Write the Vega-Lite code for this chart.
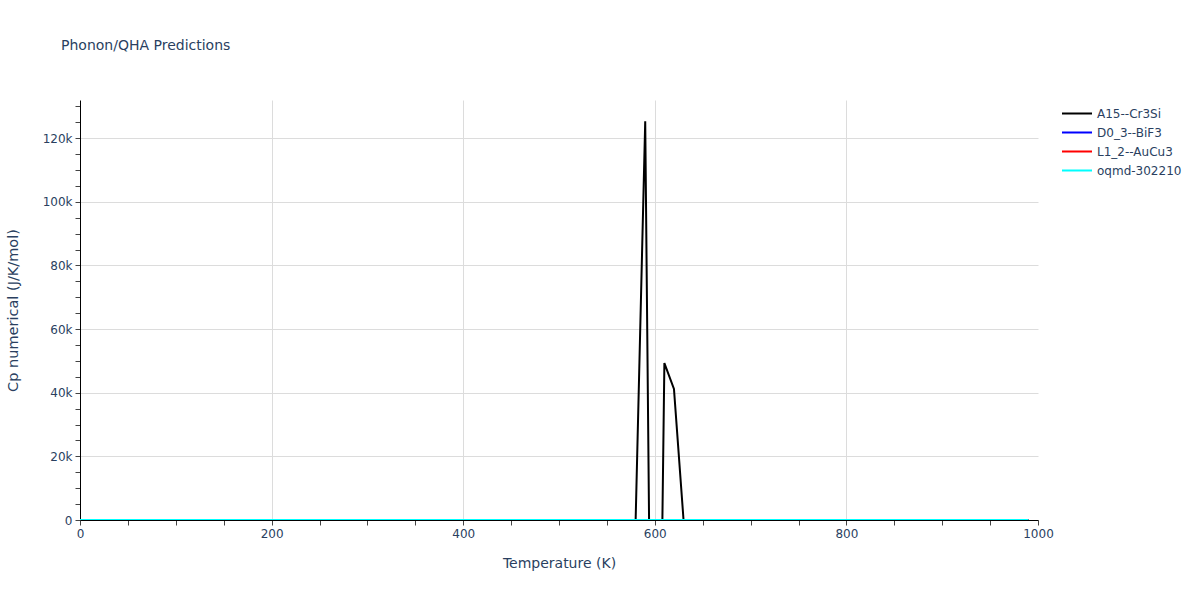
{
  "$schema": "https://vega.github.io/schema/vega-lite/v6.json",
  "width": 958,
  "height": 420,
  "autosize": {"type": "none"},
  "padding": {"left": 80, "top": 100, "right": 162, "bottom": 80},
  "background": "white",
  "title": {"text": "Phonon/QHA Predictions", "anchor": "start", "frame": "group", "dx": -19, "offset": 47, "fontSize": 14, "font": "DejaVu Sans", "fontWeight": "normal", "color": "#2a3f5f"},
  "config": {"view": {"stroke": null}, "font": "DejaVu Sans"},
  "data": {"values": [
    {"T":0,"A15--Cr3Si":0,"D0_3--BiF3":0,"L1_2--AuCu3":0,"oqmd-302210":0},
    {"T":10,"A15--Cr3Si":0,"D0_3--BiF3":0,"L1_2--AuCu3":0,"oqmd-302210":0},
    {"T":20,"A15--Cr3Si":0,"D0_3--BiF3":0,"L1_2--AuCu3":0,"oqmd-302210":0},
    {"T":30,"A15--Cr3Si":0,"D0_3--BiF3":0,"L1_2--AuCu3":0,"oqmd-302210":0},
    {"T":40,"A15--Cr3Si":0,"D0_3--BiF3":0,"L1_2--AuCu3":0,"oqmd-302210":0},
    {"T":50,"A15--Cr3Si":0,"D0_3--BiF3":0,"L1_2--AuCu3":0,"oqmd-302210":0},
    {"T":60,"A15--Cr3Si":0,"D0_3--BiF3":0,"L1_2--AuCu3":0,"oqmd-302210":0},
    {"T":70,"A15--Cr3Si":0,"D0_3--BiF3":0,"L1_2--AuCu3":0,"oqmd-302210":0},
    {"T":80,"A15--Cr3Si":0,"D0_3--BiF3":0,"L1_2--AuCu3":0,"oqmd-302210":0},
    {"T":90,"A15--Cr3Si":0,"D0_3--BiF3":0,"L1_2--AuCu3":0,"oqmd-302210":0},
    {"T":100,"A15--Cr3Si":0,"D0_3--BiF3":0,"L1_2--AuCu3":0,"oqmd-302210":0},
    {"T":110,"A15--Cr3Si":0,"D0_3--BiF3":0,"L1_2--AuCu3":0,"oqmd-302210":0},
    {"T":120,"A15--Cr3Si":0,"D0_3--BiF3":0,"L1_2--AuCu3":0,"oqmd-302210":0},
    {"T":130,"A15--Cr3Si":0,"D0_3--BiF3":0,"L1_2--AuCu3":0,"oqmd-302210":0},
    {"T":140,"A15--Cr3Si":0,"D0_3--BiF3":0,"L1_2--AuCu3":0,"oqmd-302210":0},
    {"T":150,"A15--Cr3Si":0,"D0_3--BiF3":0,"L1_2--AuCu3":0,"oqmd-302210":0},
    {"T":160,"A15--Cr3Si":0,"D0_3--BiF3":0,"L1_2--AuCu3":0,"oqmd-302210":0},
    {"T":170,"A15--Cr3Si":0,"D0_3--BiF3":0,"L1_2--AuCu3":0,"oqmd-302210":0},
    {"T":180,"A15--Cr3Si":0,"D0_3--BiF3":0,"L1_2--AuCu3":0,"oqmd-302210":0},
    {"T":190,"A15--Cr3Si":0,"D0_3--BiF3":0,"L1_2--AuCu3":0,"oqmd-302210":0},
    {"T":200,"A15--Cr3Si":0,"D0_3--BiF3":0,"L1_2--AuCu3":0,"oqmd-302210":0},
    {"T":210,"A15--Cr3Si":0,"D0_3--BiF3":0,"L1_2--AuCu3":0,"oqmd-302210":0},
    {"T":220,"A15--Cr3Si":0,"D0_3--BiF3":0,"L1_2--AuCu3":0,"oqmd-302210":0},
    {"T":230,"A15--Cr3Si":0,"D0_3--BiF3":0,"L1_2--AuCu3":0,"oqmd-302210":0},
    {"T":240,"A15--Cr3Si":0,"D0_3--BiF3":0,"L1_2--AuCu3":0,"oqmd-302210":0},
    {"T":250,"A15--Cr3Si":0,"D0_3--BiF3":0,"L1_2--AuCu3":0,"oqmd-302210":0},
    {"T":260,"A15--Cr3Si":0,"D0_3--BiF3":0,"L1_2--AuCu3":0,"oqmd-302210":0},
    {"T":270,"A15--Cr3Si":0,"D0_3--BiF3":0,"L1_2--AuCu3":0,"oqmd-302210":0},
    {"T":280,"A15--Cr3Si":0,"D0_3--BiF3":0,"L1_2--AuCu3":0,"oqmd-302210":0},
    {"T":290,"A15--Cr3Si":0,"D0_3--BiF3":0,"L1_2--AuCu3":0,"oqmd-302210":0},
    {"T":300,"A15--Cr3Si":0,"D0_3--BiF3":0,"L1_2--AuCu3":0,"oqmd-302210":0},
    {"T":310,"A15--Cr3Si":0,"D0_3--BiF3":0,"L1_2--AuCu3":0,"oqmd-302210":0},
    {"T":320,"A15--Cr3Si":0,"D0_3--BiF3":0,"L1_2--AuCu3":0,"oqmd-302210":0},
    {"T":330,"A15--Cr3Si":0,"D0_3--BiF3":0,"L1_2--AuCu3":0,"oqmd-302210":0},
    {"T":340,"A15--Cr3Si":0,"D0_3--BiF3":0,"L1_2--AuCu3":0,"oqmd-302210":0},
    {"T":350,"A15--Cr3Si":0,"D0_3--BiF3":0,"L1_2--AuCu3":0,"oqmd-302210":0},
    {"T":360,"A15--Cr3Si":0,"D0_3--BiF3":0,"L1_2--AuCu3":0,"oqmd-302210":0},
    {"T":370,"A15--Cr3Si":0,"D0_3--BiF3":0,"L1_2--AuCu3":0,"oqmd-302210":0},
    {"T":380,"A15--Cr3Si":0,"D0_3--BiF3":0,"L1_2--AuCu3":0,"oqmd-302210":0},
    {"T":390,"A15--Cr3Si":0,"D0_3--BiF3":0,"L1_2--AuCu3":0,"oqmd-302210":0},
    {"T":400,"A15--Cr3Si":0,"D0_3--BiF3":0,"L1_2--AuCu3":0,"oqmd-302210":0},
    {"T":410,"A15--Cr3Si":0,"D0_3--BiF3":0,"L1_2--AuCu3":0,"oqmd-302210":0},
    {"T":420,"A15--Cr3Si":0,"D0_3--BiF3":0,"L1_2--AuCu3":0,"oqmd-302210":0},
    {"T":430,"A15--Cr3Si":0,"D0_3--BiF3":0,"L1_2--AuCu3":0,"oqmd-302210":0},
    {"T":440,"A15--Cr3Si":0,"D0_3--BiF3":0,"L1_2--AuCu3":0,"oqmd-302210":0},
    {"T":450,"A15--Cr3Si":0,"D0_3--BiF3":0,"L1_2--AuCu3":0,"oqmd-302210":0},
    {"T":460,"A15--Cr3Si":0,"D0_3--BiF3":0,"L1_2--AuCu3":0,"oqmd-302210":0},
    {"T":470,"A15--Cr3Si":0,"D0_3--BiF3":0,"L1_2--AuCu3":0,"oqmd-302210":0},
    {"T":480,"A15--Cr3Si":0,"D0_3--BiF3":0,"L1_2--AuCu3":0,"oqmd-302210":0},
    {"T":490,"A15--Cr3Si":0,"D0_3--BiF3":0,"L1_2--AuCu3":0,"oqmd-302210":0},
    {"T":500,"A15--Cr3Si":0,"D0_3--BiF3":0,"L1_2--AuCu3":0,"oqmd-302210":0},
    {"T":510,"A15--Cr3Si":0,"D0_3--BiF3":0,"L1_2--AuCu3":0,"oqmd-302210":0},
    {"T":520,"A15--Cr3Si":0,"D0_3--BiF3":0,"L1_2--AuCu3":0,"oqmd-302210":0},
    {"T":530,"A15--Cr3Si":0,"D0_3--BiF3":0,"L1_2--AuCu3":0,"oqmd-302210":0},
    {"T":540,"A15--Cr3Si":0,"D0_3--BiF3":0,"L1_2--AuCu3":0,"oqmd-302210":0},
    {"T":550,"A15--Cr3Si":0,"D0_3--BiF3":0,"L1_2--AuCu3":0,"oqmd-302210":0},
    {"T":560,"A15--Cr3Si":0,"D0_3--BiF3":0,"L1_2--AuCu3":0,"oqmd-302210":0},
    {"T":570,"A15--Cr3Si":0,"D0_3--BiF3":0,"L1_2--AuCu3":0,"oqmd-302210":0},
    {"T":580,"A15--Cr3Si":0,"D0_3--BiF3":0,"L1_2--AuCu3":0,"oqmd-302210":0},
    {"T":590,"A15--Cr3Si":125300,"D0_3--BiF3":0,"L1_2--AuCu3":0,"oqmd-302210":0},
    {"T":600,"A15--Cr3Si":-187000,"D0_3--BiF3":0,"L1_2--AuCu3":0,"oqmd-302210":0},
    {"T":610,"A15--Cr3Si":49300,"D0_3--BiF3":0,"L1_2--AuCu3":0,"oqmd-302210":0},
    {"T":620,"A15--Cr3Si":41200,"D0_3--BiF3":0,"L1_2--AuCu3":0,"oqmd-302210":0},
    {"T":630,"A15--Cr3Si":0,"D0_3--BiF3":0,"L1_2--AuCu3":0,"oqmd-302210":0},
    {"T":640,"A15--Cr3Si":0,"D0_3--BiF3":0,"L1_2--AuCu3":0,"oqmd-302210":0},
    {"T":650,"A15--Cr3Si":0,"D0_3--BiF3":0,"L1_2--AuCu3":0,"oqmd-302210":0},
    {"T":660,"A15--Cr3Si":0,"D0_3--BiF3":0,"L1_2--AuCu3":0,"oqmd-302210":0},
    {"T":670,"A15--Cr3Si":0,"D0_3--BiF3":0,"L1_2--AuCu3":0,"oqmd-302210":0},
    {"T":680,"A15--Cr3Si":0,"D0_3--BiF3":0,"L1_2--AuCu3":0,"oqmd-302210":0},
    {"T":690,"A15--Cr3Si":0,"D0_3--BiF3":0,"L1_2--AuCu3":0,"oqmd-302210":0},
    {"T":700,"A15--Cr3Si":0,"D0_3--BiF3":0,"L1_2--AuCu3":0,"oqmd-302210":0},
    {"T":710,"A15--Cr3Si":0,"D0_3--BiF3":0,"L1_2--AuCu3":0,"oqmd-302210":0},
    {"T":720,"A15--Cr3Si":0,"D0_3--BiF3":0,"L1_2--AuCu3":0,"oqmd-302210":0},
    {"T":730,"A15--Cr3Si":0,"D0_3--BiF3":0,"L1_2--AuCu3":0,"oqmd-302210":0},
    {"T":740,"A15--Cr3Si":0,"D0_3--BiF3":0,"L1_2--AuCu3":0,"oqmd-302210":0},
    {"T":750,"A15--Cr3Si":0,"D0_3--BiF3":0,"L1_2--AuCu3":0,"oqmd-302210":0},
    {"T":760,"A15--Cr3Si":0,"D0_3--BiF3":0,"L1_2--AuCu3":0,"oqmd-302210":0},
    {"T":770,"A15--Cr3Si":0,"D0_3--BiF3":0,"L1_2--AuCu3":0,"oqmd-302210":0},
    {"T":780,"A15--Cr3Si":0,"D0_3--BiF3":0,"L1_2--AuCu3":0,"oqmd-302210":0},
    {"T":790,"A15--Cr3Si":0,"D0_3--BiF3":0,"L1_2--AuCu3":0,"oqmd-302210":0},
    {"T":800,"A15--Cr3Si":0,"D0_3--BiF3":0,"L1_2--AuCu3":0,"oqmd-302210":0},
    {"T":810,"A15--Cr3Si":0,"D0_3--BiF3":0,"L1_2--AuCu3":0,"oqmd-302210":0},
    {"T":820,"A15--Cr3Si":0,"D0_3--BiF3":0,"L1_2--AuCu3":0,"oqmd-302210":0},
    {"T":830,"A15--Cr3Si":0,"D0_3--BiF3":0,"L1_2--AuCu3":0,"oqmd-302210":0},
    {"T":840,"A15--Cr3Si":0,"D0_3--BiF3":0,"L1_2--AuCu3":0,"oqmd-302210":0},
    {"T":850,"A15--Cr3Si":0,"D0_3--BiF3":0,"L1_2--AuCu3":0,"oqmd-302210":0},
    {"T":860,"A15--Cr3Si":0,"D0_3--BiF3":0,"L1_2--AuCu3":0,"oqmd-302210":0},
    {"T":870,"A15--Cr3Si":0,"D0_3--BiF3":0,"L1_2--AuCu3":0,"oqmd-302210":0},
    {"T":880,"A15--Cr3Si":0,"D0_3--BiF3":0,"L1_2--AuCu3":0,"oqmd-302210":0},
    {"T":890,"A15--Cr3Si":0,"D0_3--BiF3":0,"L1_2--AuCu3":0,"oqmd-302210":0},
    {"T":900,"A15--Cr3Si":0,"D0_3--BiF3":0,"L1_2--AuCu3":0,"oqmd-302210":0},
    {"T":910,"A15--Cr3Si":0,"D0_3--BiF3":0,"L1_2--AuCu3":0,"oqmd-302210":0},
    {"T":920,"A15--Cr3Si":0,"D0_3--BiF3":0,"L1_2--AuCu3":0,"oqmd-302210":0},
    {"T":930,"A15--Cr3Si":0,"D0_3--BiF3":0,"L1_2--AuCu3":0,"oqmd-302210":0},
    {"T":940,"A15--Cr3Si":0,"D0_3--BiF3":0,"L1_2--AuCu3":0,"oqmd-302210":0},
    {"T":950,"A15--Cr3Si":0,"D0_3--BiF3":0,"L1_2--AuCu3":0,"oqmd-302210":0},
    {"T":960,"A15--Cr3Si":0,"D0_3--BiF3":0,"L1_2--AuCu3":0,"oqmd-302210":0},
    {"T":970,"A15--Cr3Si":0,"D0_3--BiF3":0,"L1_2--AuCu3":0,"oqmd-302210":0},
    {"T":980,"A15--Cr3Si":0,"D0_3--BiF3":0,"L1_2--AuCu3":0,"oqmd-302210":0},
    {"T":990,"A15--Cr3Si":0,"D0_3--BiF3":0,"L1_2--AuCu3":0,"oqmd-302210":0}
  ]},
  "transform": [{"fold": ["A15--Cr3Si", "D0_3--BiF3", "L1_2--AuCu3", "oqmd-302210"], "as": ["series", "Cp"]}],
  "mark": {"type": "line", "strokeWidth": 2, "clip": true, "interpolate": "linear"},
  "encoding": {
    "x": {"field": "T", "type": "quantitative",
      "scale": {"domain": [0, 1000], "nice": false, "zero": false},
      "axis": {"title": "Temperature (K)", "values": [0,50,100,150,200,250,300,350,400,450,500,550,600,650,700,750,800,850,900,950,1000],
        "labelExpr": "datum.value % 200 == 0 ? format(datum.value, 'd') : ''",
        "labelFlush": false, "labelOverlap": false, "labelBound": false,
        "grid": true, "gridColor": "#dcdcdc", "gridOpacity": {"condition": {"test": "datum.value % 200 == 0 && datum.value > 0 && datum.value < 1000", "value": 1}, "value": 0},
        "domainColor": "#000000", "domainWidth": 1, "tickColor": "#444444", "tickSize": 5,
        "labelColor": "#2a3f5f", "labelFontSize": 12, "labelPadding": 3, "labelFont": "DejaVu Sans",
        "titleColor": "#2a3f5f", "titleFontSize": 14, "titleFontWeight": "normal", "titleFont": "DejaVu Sans", "titlePadding": 17}},
    "y": {"field": "Cp", "type": "quantitative",
      "scale": {"domain": [0, 132000], "nice": false, "zero": false},
      "axis": {"title": "Cp numerical (J/K/mol)", "values": [0,5000,10000,15000,20000,25000,30000,35000,40000,45000,50000,55000,60000,65000,70000,75000,80000,85000,90000,95000,100000,105000,110000,115000,120000,125000,130000],
        "labelExpr": "datum.value % 20000 == 0 ? (datum.value == 0 ? '0' : format(datum.value / 1000, 'd') + 'k') : ''",
        "labelFlush": false, "labelOverlap": false, "labelBound": false,
        "grid": true, "gridColor": "#dcdcdc", "gridOpacity": {"condition": {"test": "datum.value % 20000 == 0 && datum.value > 0", "value": 1}, "value": 0},
        "domainColor": "#000000", "domainWidth": 1, "tickColor": "#444444", "tickSize": 5,
        "labelColor": "#2a3f5f", "labelFontSize": 12, "labelPadding": 3, "labelFont": "DejaVu Sans",
        "titleColor": "#2a3f5f", "titleFontSize": 14.5, "titleFontWeight": "normal", "titleFont": "DejaVu Sans", "titlePadding": 22}},
    "color": {"field": "series", "type": "nominal",
      "scale": {"domain": ["A15--Cr3Si", "D0_3--BiF3", "L1_2--AuCu3", "oqmd-302210"], "range": ["#000000", "#0000ff", "#ff0000", "#00ffff"]},
      "legend": {"title": null, "orient": "none", "legendX": 981, "legendY": 4, "symbolType": "stroke", "symbolSize": 900, "symbolStrokeWidth": 2, "labelFontSize": 12, "labelColor": "#2a3f5f", "labelFont": "DejaVu Sans", "labelOffset": 4, "rowPadding": 0, "clipHeight": 19}}
  }
}
